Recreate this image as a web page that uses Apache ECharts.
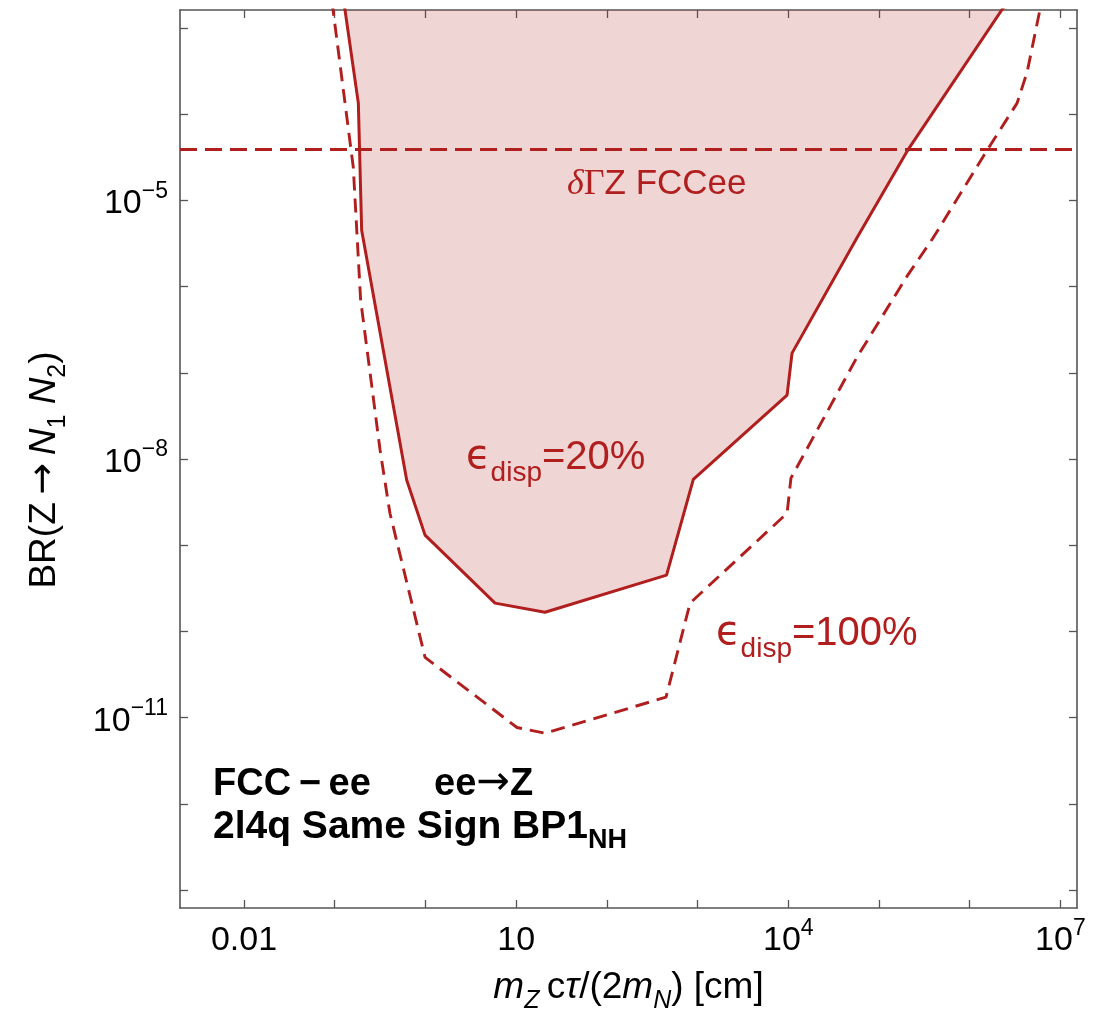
<!DOCTYPE html>
<html>
<head>
<meta charset="utf-8">
<script src="https://cdn.jsdelivr.net/npm/echarts@6/dist/echarts.min.js"></script>
<style>
html,body{margin:0;padding:0;background:#ffffff;}
#chart{width:1113px;height:1017px;}
</style>
</head>
<body>
<div id="chart"></div>
<script>
// ---------------- data ----------------
// epsilon_disp = 20% (solid, filled region above it)
const solidCtau = [0.126, 0.182, 0.198, 0.621, 0.99, 5.85, 20.8, 455, 898, 9.7e3, 1.1e4, 5.7e4, 2.11e5, 2.59e6];
const solidBR   = [2e-3, 1.34e-4, 4.5e-6, 5.7e-9, 1.31e-9, 2.13e-10, 1.67e-10, 4.5e-10, 5.8e-9, 5.5e-8, 1.69e-7, 3.65e-6, 3.93e-5, 2e-3];
// epsilon_disp = 100% (dashed)
const dashCtau = [0.0933, 0.160, 0.193, 0.316, 0.406, 0.99, 10.2, 20.8, 449, 826, 9.7e3, 1.07e4, 5.73e4, 2.04e5, 3.94e5, 1.56e6, 3.33e6, 4.3e6, 6.2e6];
const dashBR   = [2e-3, 2.43e-5, 6.97e-7, 1.27e-8, 2.35e-9, 5.0e-11, 7.7e-12, 6.6e-12, 1.73e-11, 2.13e-10, 2.35e-9, 6.0e-9, 1.52e-7, 1.32e-6, 3.65e-6, 3.83e-5, 1.34e-4, 3.07e-4, 2e-3];
// delta Gamma_Z FCCee limit (horizontal dashed line)
const deltaGammaZ = 3.93e-5;

// axis ranges (decimal exponents) and ticks
const xExpRange = [-2.706, 7.183];
const yExpRange = [-13.207, -2.793];
const xTickExp  = [-2, -1, 0, 1, 2, 3, 4, 5, 6, 7];
const xLabelExp = [-2, 1, 4, 7];
const xTickLabels = ['{n|0.01}', '{n|10}', '{n|10}{e|4}', '{n|10}{e|7}'];
const yTickExp  = [-3, -4, -5, -6, -7, -8, -9, -10, -11, -12, -13];
const yLabelExp = [-5, -8, -11];
const yTickLabels = ['{n|10}{e|\u22125}', '{n|10}{e|\u22128}', '{n|10}{e|\u221211}'];

// ---------------- chart ----------------
const L = Math.log10;
const toPts = (xs, ys) => xs.map((x, i) => [L(x), L(ys[i])]);
const RED = '#B01E1E';
const FRAME = '#555555';
const SANS = 'Liberation Sans';
const SERIF = 'Liberation Serif';
const ARROWFONT = 'DejaVu Sans';

const tickRich = {
  n: {fontSize: 34, fontFamily: SANS, color: '#000', verticalAlign: 'bottom', padding: [7, 0, 0, 0]},
  e: {fontSize: 23, fontFamily: SANS, color: '#000', verticalAlign: 'top'}
};
const labelFrom = (exps, labels) => v => {
  const i = exps.findIndex(e => Math.abs(e - v) < 1e-6);
  return i < 0 ? '' : labels[i];
};

const titleRich = {
  r:  {fontSize: 37, fontFamily: SANS, color: '#000', verticalAlign: 'bottom', padding: [0, 0, 8, 0]},
  i:  {fontSize: 37, fontFamily: SANS, fontStyle: 'italic', color: '#000', verticalAlign: 'bottom', padding: [0, 0, 8, 0]},
  a:  {fontSize: 38, fontFamily: ARROWFONT, color: '#000', verticalAlign: 'bottom', padding: [0, 0, 8, 0]},
  s:  {fontSize: 25, fontFamily: SANS, color: '#000', verticalAlign: 'bottom'},
  is: {fontSize: 25, fontFamily: SANS, fontStyle: 'italic', color: '#000', verticalAlign: 'bottom'}
};

function frameAxis(pos, range, ticks, extra) {
  return Object.assign({
    type: 'value',
    position: pos,
    min: range[0],
    max: range[1],
    axisLine: {show: true, onZero: false, lineStyle: {color: FRAME, width: 1.6}},
    axisTick: {show: true, inside: true, length: 8, customValues: ticks, lineStyle: {color: FRAME, width: 1.3}},
    axisLabel: {show: false},
    splitLine: {show: false}
  }, extra || {});
}

const epsRich = {
  e: {fontSize: 40, fontFamily: 'DejaVu Sans', fill: RED, verticalAlign: 'bottom', padding: [0, 0, 9, 0]},
  s: {fontSize: 28, fontFamily: SANS, fill: RED, verticalAlign: 'bottom'},
  r: {fontSize: 40, fontFamily: SANS, fill: RED, verticalAlign: 'bottom', padding: [0, 0, 9, 0]}
};

const option = {
  animation: false,
  backgroundColor: '#ffffff',
  grid: {left: 180, right: 36, top: 10, bottom: 109, containLabel: false, outerBoundsMode: 'none'},
  xAxis: [
    frameAxis('bottom', xExpRange, xTickExp, {
      axisLabel: {show: true, customValues: xLabelExp, margin: 9,
        formatter: labelFrom(xLabelExp, xTickLabels), rich: tickRich},
      name: '{i|m}{is|Z}{r|\u2009c}{i|\u03c4}{r|/(2}{i|m}{is|N}{r|) [cm]}',
      nameLocation: 'middle', nameGap: 61,
      nameTextStyle: {rich: titleRich}
    }),
    frameAxis('top', xExpRange, xTickExp)
  ],
  yAxis: [
    frameAxis('left', yExpRange, yTickExp, {
      axisLabel: {show: true, customValues: yLabelExp, margin: 12,
        formatter: labelFrom(yLabelExp, yTickLabels), rich: tickRich},
      name: '{r|BR(Z}{a|\u2009\u2192\u2009}{i|N}{s|1}{r| }{i|N}{s|2}{r|)}',
      nameLocation: 'middle', nameGap: 109,
      nameTextStyle: {rich: titleRich, padding: [0, 22, 0, 0]}
    }),
    frameAxis('right', yExpRange, yTickExp)
  ],
  series: [
    {
      type: 'line', name: 'eps20', data: toPts(solidCtau, solidBR),
      symbol: 'none', silent: true, clip: true, z: 2,
      lineStyle: {color: RED, width: 3},
      areaStyle: {origin: 'end', color: RED, opacity: 0.19}
    },
    {
      type: 'line', name: 'eps100', data: toPts(dashCtau, dashBR),
      symbol: 'none', silent: true, clip: true, z: 3,
      lineStyle: {color: RED, width: 2.9, type: [14, 8]},
      markLine: {
        silent: true, symbol: ['none', 'none'], label: {show: false},
        lineStyle: {color: RED, width: 3, type: [17, 8]},
        data: [{yAxis: L(deltaGammaZ)}]
      }
    }
  ],
  graphic: [
    {type: 'text', left: 567, top: 167, z: 10, silent: true,
      style: {text: '{d|\u03b4}{g|\u0393}{r|Z FCCee}', fill: RED,
        rich: {
          d: {fontSize: 36, fontFamily: SERIF, fontStyle: 'italic', fill: RED, verticalAlign: 'bottom'},
          g: {fontSize: 36, fontFamily: SERIF, fill: RED, verticalAlign: 'bottom'},
          r: {fontSize: 35, fontFamily: SANS, fill: RED, verticalAlign: 'bottom', padding: [0, 0, 1, 0]}
        }}},
    {type: 'text', left: 466, top: 438, z: 10, silent: true,
      style: {text: '{e|\u03f5}{s|disp}{r|=20%}', fill: RED, rich: epsRich}},
    {type: 'text', left: 716, top: 614, z: 10, silent: true,
      style: {text: '{e|\u03f5}{s|disp}{r|=100%}', fill: RED, rich: epsRich}},
    {type: 'text', left: 213, top: 764, z: 10, silent: true,
      style: {text: '{b|FCC\u2009\u2212\u2009ee      ee}{a|\u2192}{b|Z}', fill: '#000',
        rich: {
          b: {fontSize: 38, fontWeight: 'bold', fontFamily: SANS, fill: '#000', verticalAlign: 'bottom'},
          a: {fontSize: 40, fontFamily: ARROWFONT, fill: '#000', verticalAlign: 'bottom', lineHeight: 30}
        }}},
    {type: 'text', left: 213, top: 808, z: 10, silent: true,
      style: {text: '{b|2l4q Same Sign BP1}{s|NH}', fill: '#000',
        rich: {
          b: {fontSize: 39, fontWeight: 'bold', fontFamily: SANS, fill: '#000', verticalAlign: 'bottom', padding: [0, 0, 7, 0]},
          s: {fontSize: 27, fontWeight: 'bold', fontFamily: SANS, fill: '#000', verticalAlign: 'bottom'}
        }}}
  ]
};

const chart = echarts.init(document.getElementById('chart'), null, {renderer: 'canvas'});
chart.setOption(option);
</script>
</body>
</html>
